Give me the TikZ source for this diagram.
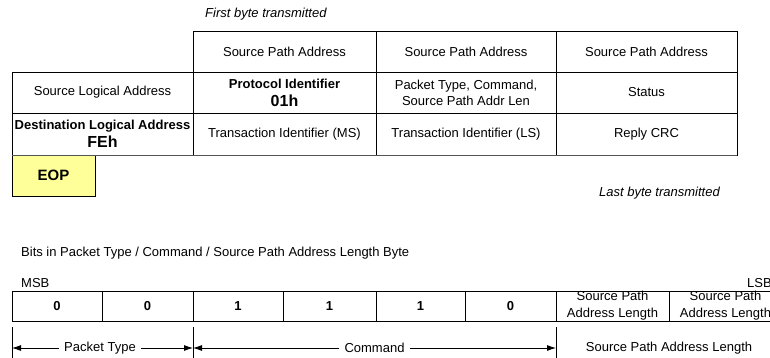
\documentclass[tikz,border=0pt]{standalone}
\usepackage{fontspec}
\setmainfont{Liberation Sans}
\usetikzlibrary{arrows.meta}
\definecolor{eopyellow}{HTML}{FFFF99}
\definecolor{rulegray}{HTML}{555555}

% a drawn table cell given by two opposite corners (in px units)
\newcommand\mkcell[7]{%
  \pgfmathsetmacro\cellX{(#3+#5)/2}\pgfmathsetmacro\cellY{(#4+#6)/2}%
  \pgfmathsetmacro\cellW{#5-#3}\pgfmathsetmacro\cellH{#6-#4}%
  \node[#1, minimum width=\cellW pt, minimum height=\cellH pt] (#2) at (\cellX,\cellY) {#7};}

\begin{document}
\begin{tikzpicture}[x=1pt,y=-1pt,
  txt/.style={inner sep=0pt, font=\fontsize{13}{15}\selectfont},
  cell/.style={draw, line width=0.8pt, inner sep=0pt, align=center,
               font=\fontsize{13}{16}\selectfont},
  lencell/.style={cell, font=\fontsize{13}{17}\selectfont},
  bitcell/.style={cell, font=\fontsize{13}{15}\selectfont\bfseries},
  eopbox/.style={cell, fill=eopyellow, font=\fontsize{15}{17}\selectfont\bfseries},
  tick/.style={line width=0.8pt},
  span/.style={line width=0.8pt, -{Latex[length=9pt,width=6pt]}},
  spanlabel/.style={inner ysep=0pt, inner xsep=5pt, font=\fontsize{13}{15}\selectfont}]
\clip (0,0) rectangle (770,358);

% ---- reply packet layout ----
\node[txt, anchor=west, font=\fontsize{13}{15}\selectfont\itshape] (first) at (205,14) {First byte transmitted};

\mkcell{cell}{spa1}{193}{31}{376}{72}{Source Path Address}
\mkcell{cell}{spa2}{376}{31}{556}{72}{Source Path Address}
\mkcell{cell}{spa3}{556}{31}{737}{72}{Source Path Address}

\mkcell{cell}{sla}{12}{72}{193}{113}{Source Logical Address}
\mkcell{cell}{pid}{193}{72}{376}{113}{\textbf{Protocol Identifier}\\[2pt]{\fontsize{16}{18}\selectfont\bfseries 01h}}
\mkcell{cell}{ptc}{376}{72}{556}{113}{Packet Type, Command,\\Source Path Addr Len}
\mkcell{cell}{status}{556}{72}{737}{113}{Status}

\mkcell{cell}{dla}{12}{113}{193}{155}{\textbf{Destination Logical Address}\\[2pt]{\fontsize{16}{18}\selectfont\bfseries FEh}}
\mkcell{cell}{tims}{193}{113}{376}{155}{Transaction Identifier (MS)}
\mkcell{cell}{tils}{376}{113}{556}{155}{Transaction Identifier (LS)}
\mkcell{cell}{crc}{556}{113}{737}{155}{Reply CRC}

\mkcell{eopbox}{eop}{12}{155}{95}{196}{EOP}

% heavier grey rule under the last table row
\draw[line width=1.4pt, rulegray] (dla.south west) -- (crc.south east);

\node[txt, anchor=east, font=\fontsize{13}{15}\selectfont\itshape] (last) at (720,193) {Last byte transmitted};

% ---- bit layout of the packet type / command byte ----
\node[txt, anchor=west] (bitstitle) at (21,253) {Bits in Packet Type / Command / Source Path Address Length Byte};
\node[txt, anchor=west] (msb) at (21,283) {MSB};
\node[txt, anchor=east] (lsb) at (772,283) {LSB};

\mkcell{bitcell}{b7}{12}{291}{102}{321}{0}
\mkcell{bitcell}{b6}{102}{291}{193}{321}{0}
\mkcell{bitcell}{b5}{193}{291}{283}{321}{1}
\mkcell{bitcell}{b4}{283}{291}{376}{321}{1}
\mkcell{bitcell}{b3}{376}{291}{465}{321}{1}
\mkcell{bitcell}{b2}{465}{291}{556}{321}{0}
\mkcell{lencell}{b1}{556}{291}{669}{321}{Source Path\\Address Length}
\mkcell{lencell}{b0}{669}{291}{782}{321}{Source Path\\Address Length}

% field boundaries
\coordinate (k1t) at (12,327);  \coordinate (k1b) at (12,360);
\coordinate (k2t) at (193,327); \coordinate (k2b) at (193,360);
\coordinate (k3t) at (556,327); \coordinate (k3b) at (556,360);
\draw[tick] (k1t) -- (k1b);
\draw[tick] (k2t) -- (k2b);
\draw[tick] (k3t) -- (k3b);

\coordinate (pl) at (12,348);
\coordinate (pr) at (193,348);
\coordinate (cr) at (556,348);

\node[spanlabel] (ptype) at (100,348) {Packet Type};
\node[spanlabel] (cmd) at (374.5,348) {Command};
\node[spanlabel] (spal) at (669,348) {Source Path Address Length};

\draw[span] (ptype.west) -- (pl);
\draw[span] (ptype.east) -- (pr);
\draw[span] (cmd.west) -- (pr);
\draw[span] (cmd.east) -- (cr);
\end{tikzpicture}
\end{document}
